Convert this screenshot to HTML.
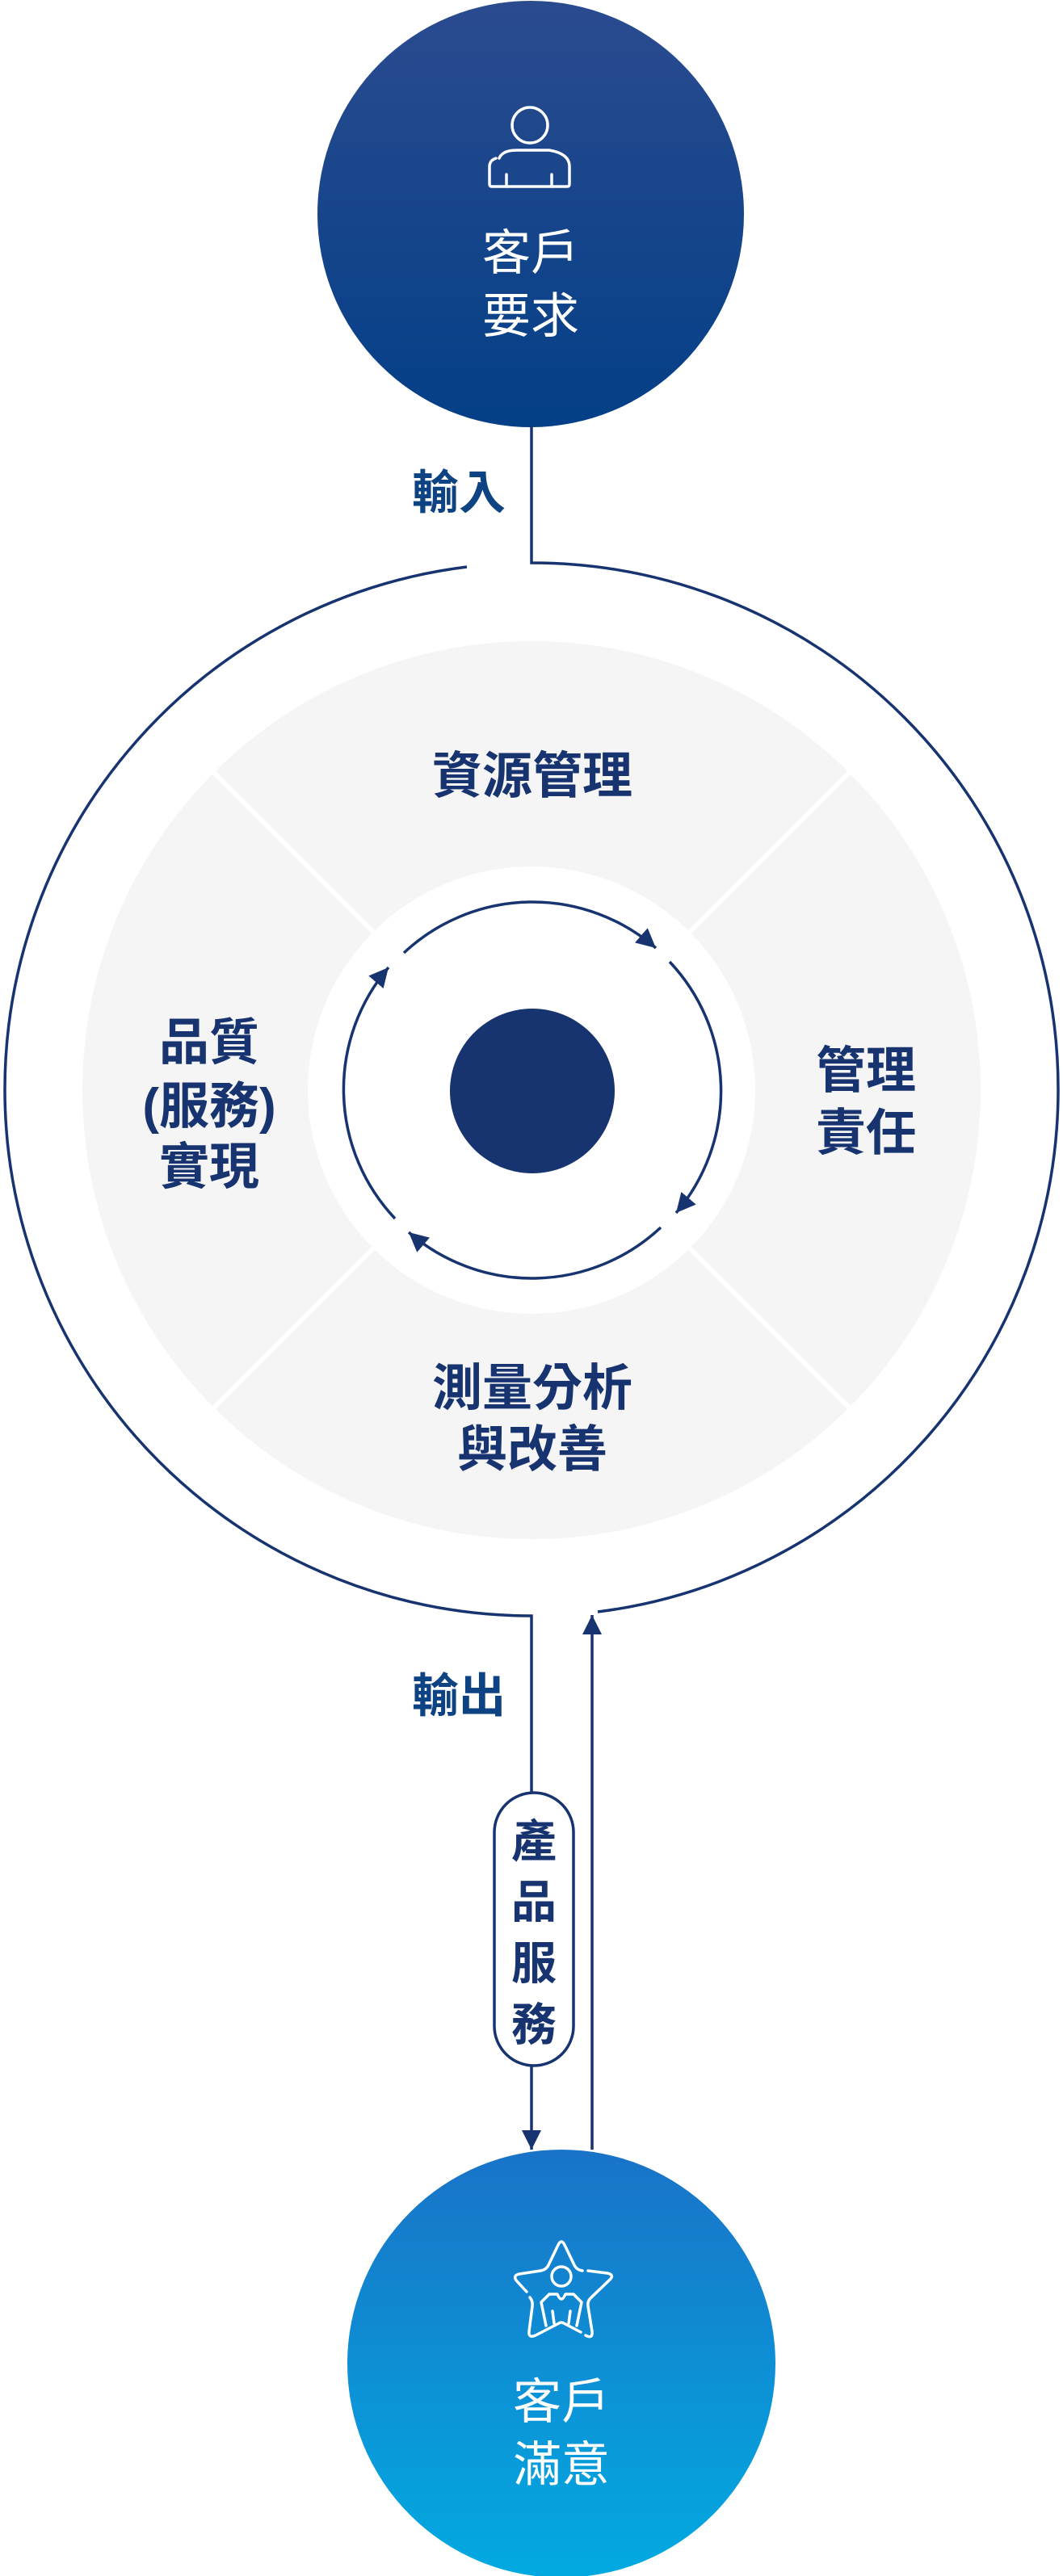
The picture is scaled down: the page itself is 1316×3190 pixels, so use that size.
<!DOCTYPE html>
<html><head><meta charset="utf-8">
<style>
html,body{margin:0;padding:0;background:#fff;}
svg{display:block;}
text{font-family:"Liberation Sans","Noto Sans CJK TC","Noto Sans CJK SC",sans-serif;}
</style></head>
<body>
<svg width="1316" height="3190" viewBox="0 0 1316 3190" xmlns="http://www.w3.org/2000/svg">
<defs>
<linearGradient id="gTop" x1="0" y1="0" x2="0" y2="1">
<stop offset="0" stop-color="#2b4b8f"/><stop offset="1" stop-color="#033f87"/>
</linearGradient>
<linearGradient id="gBot" x1="0" y1="0" x2="0" y2="1">
<stop offset="0" stop-color="#1973c8"/><stop offset="1" stop-color="#02aae1"/>
</linearGradient>
<marker id="arr" viewBox="0 0 20 20" refX="20" refY="10" markerWidth="24" markerHeight="24" markerUnits="userSpaceOnUse" orient="auto">
<path d="M0 0 L20 10 L0 20 Z" fill="#173470"/>
</marker>
</defs>

<!-- top circle -->
<circle cx="657" cy="265" r="264" fill="url(#gTop)"/>
<g fill="none" stroke="#fff" stroke-width="3.5" stroke-linecap="round">
<circle cx="656" cy="155" r="22"/>
<path d="M618 196 Q622 186 640 186 L680 186 Q704 190 705 205 L705 228 Q705 231 702 231 L609 231 Q606 231 606 228 L606 205 Q607 198 614 196"/>
<path d="M627 216 L627 231 M683 216 L683 231"/>
</g>
<text x="657" y="334" font-size="60" fill="#fff" text-anchor="middle">客戶</text>
<text x="657" y="412" font-size="60" fill="#fff" text-anchor="middle">要求</text>

<text x="568" y="630" font-size="58" font-weight="bold" fill="#0d4283" text-anchor="middle">輸入</text>

<!-- big circle -->
<path d="M578 702 A652 652 0 0 0 6 1349 A652 652 0 0 0 658 2001 L658 2220" fill="none" stroke="#173470" stroke-width="3.5"/>
<path d="M658 528 L658 697 A652 652 0 0 1 1310 1349 A652 652 0 0 1 740 1996" fill="none" stroke="#173470" stroke-width="3.5"/>

<!-- gray ring -->
<circle cx="658" cy="1350" r="556" fill="#f5f5f5"/>
<g stroke="#fff" stroke-width="6">
<line x1="658" y1="1350" x2="265" y2="957"/>
<line x1="658" y1="1350" x2="1051" y2="957"/>
<line x1="658" y1="1350" x2="265" y2="1743"/>
<line x1="658" y1="1350" x2="1051" y2="1743"/>
</g>
<circle cx="658" cy="1350" r="277" fill="#fff"/>

<g font-size="62" font-weight="bold" fill="#173470" text-anchor="middle">
<text x="659" y="982">資源管理</text>
<text x="1072" y="1347">管理</text>
<text x="1072" y="1424">責任</text>
<text x="259" y="1312">品質</text>
<text x="259" y="1391">(服務)</text>
<text x="259" y="1466">實現</text>
<text x="659" y="1740">測量分析</text>
<text x="659" y="1816">與改善</text>
</g>

<!-- inner arrows -->
<g fill="none" stroke="#173470" stroke-width="3.5">
<path d="M500 1180 A233 233 0 0 1 812 1174" marker-end="url(#arr)"/>
<path d="M829 1191 A233 233 0 0 1 837 1502" marker-end="url(#arr)"/>
<path d="M818 1520 A233 233 0 0 1 506 1526" marker-end="url(#arr)"/>
<path d="M489 1509 A233 233 0 0 1 481 1198" marker-end="url(#arr)"/>
</g>
<circle cx="659" cy="1351" r="102" fill="#173470"/>

<text x="568" y="2120" font-size="58" font-weight="bold" fill="#0d4283" text-anchor="middle">輸出</text>

<!-- pill -->
<rect x="612" y="2220" width="98" height="338" rx="49" fill="#fff" stroke="#173470" stroke-width="3.5"/>
<g font-size="56" font-weight="bold" fill="#173470" text-anchor="middle">
<text x="661" y="2300">產</text>
<text x="661" y="2375">品</text>
<text x="661" y="2451">服</text>
<text x="661" y="2527">務</text>
</g>
<path d="M658 2558 L658 2662" fill="none" stroke="#173470" stroke-width="3.5" marker-end="url(#arr)"/>
<path d="M733 2662 L733 2000" fill="none" stroke="#173470" stroke-width="3.5" marker-end="url(#arr)"/>

<!-- bottom circle -->
<circle cx="695" cy="2927" r="265" fill="url(#gBot)"/>
<g fill="none" stroke="#fff" stroke-width="3.5" stroke-linecap="round" stroke-linejoin="round">
<path d="M721 2812 Q714 2811 711 2805 L699 2780 Q695 2772 691 2780 L679 2805 Q676 2811 669 2812 L643 2816 Q634 2818 640 2825 L652 2838"/>
<path d="M656 2845 Q660 2850 659 2856 L655 2887 Q654 2896 663 2892 L692 2877 Q695 2875 698 2877 L719 2888"/>
<path d="M725 2892 Q734 2897 733 2887 L728 2856 Q727 2850 731 2846 L755 2823 Q761 2817 752 2815 L728 2812"/>
<circle cx="695" cy="2819" r="12"/>
<path d="M680 2841 L690 2841 Q695 2853 700 2841 L710 2841 L720 2851 L714 2880 M680 2841 L670 2851 L676 2880 M684 2862 L686 2877 M706 2862 L704 2877"/>
</g>
<text x="695" y="2995" font-size="60" fill="#fff" text-anchor="middle">客戶</text>
<text x="695" y="3073" font-size="60" fill="#fff" text-anchor="middle">滿意</text>
</svg>
</body></html>
